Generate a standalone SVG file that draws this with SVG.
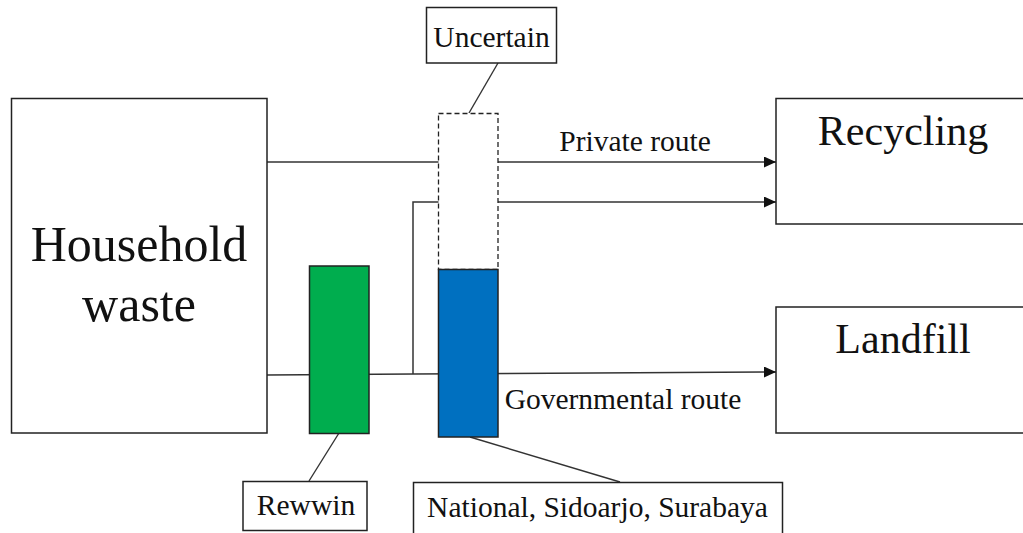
<svg xmlns="http://www.w3.org/2000/svg" width="1023" height="533" viewBox="0 0 1023 533">
  <style>
    .box { fill: #ffffff; stroke: #222222; stroke-width: 1.5; }
    .bar { stroke: #222222; stroke-width: 1.5; }
    .dash { fill: #ffffff; stroke: #222222; stroke-width: 1.3; stroke-dasharray: 5 3; }
    .wire { fill: none; stroke: #333333; stroke-width: 1.5; }
    .lead { fill: none; stroke: #333333; stroke-width: 1.4; }
    .big { font-family: "Liberation Serif", "Times New Roman", serif; font-size: 42px; fill: #111111; text-anchor: middle; }
    .huge { font-family: "Liberation Serif", "Times New Roman", serif; font-size: 50px; fill: #111111; text-anchor: middle; }
    .lbl { font-family: "Liberation Serif", "Times New Roman", serif; font-size: 29.5px; fill: #111111; text-anchor: middle; }
  </style>
  <defs>
    <marker id="arrow" markerWidth="13" markerHeight="11" refX="12" refY="5.5" orient="auto" markerUnits="userSpaceOnUse">
      <path d="M0,0 L12,5.5 L0,11 Z" fill="#111111"/>
    </marker>
  </defs>

  <rect width="1023" height="533" fill="#ffffff"/>

  <!-- connectors -->
  <g id="connectors">
    <polyline class="wire" points="267,162 776,162" marker-end="url(#arrow)"/>
    <polyline class="wire" points="413,374 413,202 776,202" marker-end="url(#arrow)"/>
    <polyline class="wire" points="267,375 413,374 776,372" marker-end="url(#arrow)"/>
    <line class="lead" x1="498" y1="63" x2="469" y2="113"/>
    <line class="lead" x1="339" y1="433" x2="309" y2="481"/>
    <line class="lead" x1="470" y1="437" x2="620" y2="482"/>
  </g>

  <g id="household">
    <rect class="box" x="11.5" y="98.5" width="255.5" height="334.5"/>
    <text class="huge" x="139" y="261">Household</text>
    <text class="huge" x="139" y="321">waste</text>
  </g>

  <g id="recycling">
    <rect class="box" x="776" y="98.5" width="260" height="125.5"/>
    <text class="big" x="903" y="145">Recycling</text>
  </g>

  <g id="landfill">
    <rect class="box" x="776" y="307" width="260" height="126"/>
    <text class="big" x="903" y="353">Landfill</text>
  </g>

  <g id="uncertain-bar">
    <rect class="dash" x="438.5" y="113.5" width="59.5" height="156"/>
  </g>

  <g id="government-bar">
    <rect class="bar" x="438.5" y="269.5" width="59.5" height="167.5" fill="#0070C0"/>
  </g>

  <g id="rewwin-bar">
    <rect class="bar" x="309.5" y="266" width="59.5" height="167.5" fill="#00AD4E"/>
  </g>

  <g id="uncertain-label">
    <rect class="box" x="426.5" y="7.5" width="130" height="55.5"/>
    <text class="lbl" x="491.5" y="47">Uncertain</text>
  </g>

  <g id="rewwin-label">
    <rect class="box" x="243" y="481.5" width="124" height="49"/>
    <text class="lbl" x="306" y="515">Rewwin</text>
  </g>

  <g id="operators-label">
    <rect class="box" x="413.5" y="482.5" width="369" height="60"/>
    <text class="lbl" x="597.5" y="517">National, Sidoarjo, Surabaya</text>
  </g>

  <g id="route-labels">
    <text class="lbl" x="635" y="151">Private route</text>
    <text class="lbl" x="623" y="409">Governmental route</text>
  </g>
</svg>
